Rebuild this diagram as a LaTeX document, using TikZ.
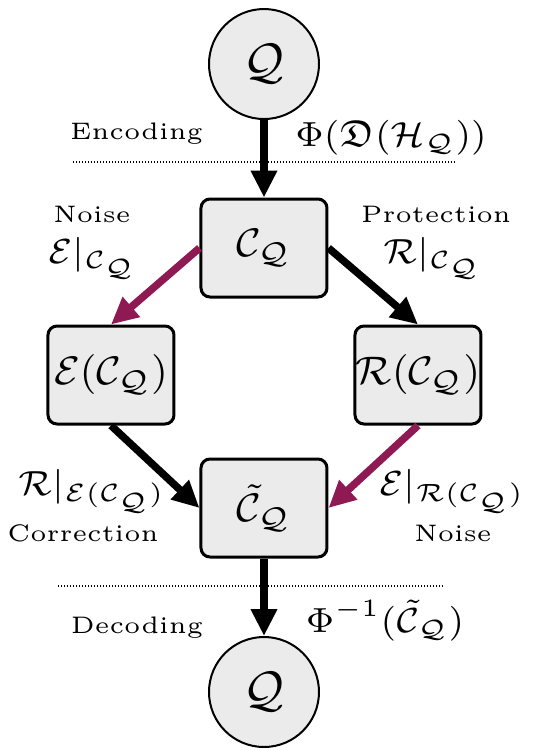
\documentclass[tikz,border=0pt]{standalone}
\usepackage{amssymb}
\usetikzlibrary{arrows.meta}
\definecolor{boxgray}{RGB}{235,235,235}
\definecolor{noisecol}{RGB}{143,25,82}
\begin{document}
\begin{tikzpicture}[x=0.2bp,y=-0.2bp,
  state/.style={circle,draw,line width=0.4bp,fill=boxgray,minimum size=22bp,inner sep=0pt,font=\fontsize{10}{12}\selectfont},
  stage/.style={rectangle,rounded corners=1.8bp,draw,line width=0.6bp,fill=boxgray,minimum width=25.2bp,minimum height=19.6bp,inner sep=0pt,font=\fontsize{8.5}{10}\selectfont},
  flow/.style={line width=1.5bp,-{Triangle[width=5bp,length=5.4bp]}},
  noiseflow/.style={flow,color=noisecol},
  sep/.style={line width=0.4bp,dash pattern=on 0.3bp off 0.3bp},
  lbl/.style={inner sep=0pt,anchor=base,font=\fontsize{4.8}{6}\selectfont},
  mlbl/.style={inner sep=0pt,anchor=base,font=\fontsize{7.5}{9}\selectfont}]
\useasboundingbox (0,0) rectangle (537,748);
% dotted separators
\coordinate (d1a) at (73,162);
\coordinate (d1b) at (455,162);
\coordinate (d2a) at (58,586);
\coordinate (d2b) at (443,586);
\draw[sep] (d1a) -- (d1b);
\draw[sep] (d2a) -- (d2b);
% nodes
\node[state] (q1) at (264,64) {$\mathcal{Q}$};
\node[stage] (c) at (264,248) {$\mathcal{C}_{\mathcal{Q}}$};
\node[stage] (e) at (111,375) {$\mathcal{E}(\mathcal{C}_{\mathcal{Q}})$};
\node[stage] (r) at (418,375) {$\mathcal{R}(\mathcal{C}_{\mathcal{Q}})$};
\node[stage] (ct) at (264,508) {$\tilde{\mathcal{C}}_{\mathcal{Q}}$};
\node[state] (q2) at (264,692) {$\mathcal{Q}$};
% connectors
\draw[flow] (q1) -- (c);
\draw[noiseflow] (c.west) -- (e.north);
\draw[flow] (c.east) -- (r.north);
\draw[flow] (e.south) -- (ct.west);
\draw[noiseflow] (r.south) -- (ct.east);
\draw[flow] (ct) -- (q2);
% labels
\node[lbl] (enc) at (136.5,139) {Encoding};
\node[mlbl] (encm) at (391,146) {$\Phi(\mathfrak{D}(\mathcal{H}_{\mathcal{Q}}))$};
\node[lbl] (n1) at (92,222) {Noise};
\node[mlbl] (n1m) at (93,263) {$\mathcal{E}|_{\mathcal{C}_{\mathcal{Q}}}$};
\node[lbl] (pr) at (436,222) {Protection};
\node[mlbl] (prm) at (433,263) {$\mathcal{R}|_{\mathcal{C}_{\mathcal{Q}}}$};
\node[mlbl] (corm) at (92,495) {$\mathcal{R}|_{\mathcal{E}(\mathcal{C}_{\mathcal{Q}})}$};
\node[lbl] (cor) at (83,541) {Correction};
\node[mlbl] (n2m) at (452,495) {$\mathcal{E}|_{\mathcal{R}(\mathcal{C}_{\mathcal{Q}})}$};
\node[lbl] (n2) at (453,541) {Noise};
\node[lbl] (dec) at (137,633) {Decoding};
\node[mlbl] (decm) at (385,632) {$\Phi^{-1}(\tilde{\mathcal{C}}_{\mathcal{Q}})$};
\end{tikzpicture}
\end{document}
